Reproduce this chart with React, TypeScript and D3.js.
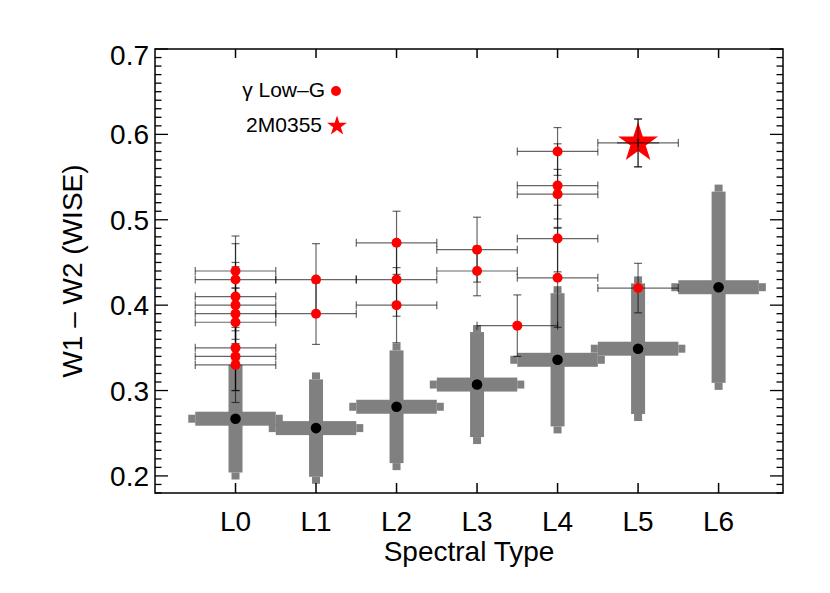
import * as d3 from 'd3'

// field dwarf averages (gray crosses)
const spectralLabels = ['L0', 'L1', 'L2', 'L3', 'L4', 'L5', 'L6']
const fieldSpt = [0, 1, 2, 3, 4, 5, 6]
const fieldColor = [0.267, 0.256, 0.281, 0.307, 0.336, 0.349, 0.421]
const fieldColorErr = [0.063, 0.057, 0.066, 0.0615, 0.078, 0.0765, 0.112]
const fieldSptErr = [0.5, 0.5, 0.5, 0.5, 0.5, 0.5, 0.5]

// gamma low-gravity objects (red dots)
const lowGSpt = [0, 0, 0, 0, 0, 0, 0, 0, 0, 1, 1, 2, 2, 2, 3, 3, 3.5, 4, 4, 4, 4, 4, 5]
const lowGColor = [0.44, 0.43, 0.41, 0.40, 0.39, 0.38, 0.35, 0.34, 0.33, 0.43, 0.39, 0.473, 0.43, 0.40, 0.465, 0.44, 0.376, 0.58, 0.54, 0.53, 0.478, 0.432, 0.42]
const lowGColorErr = [0.041, 0.042, 0.04, 0.045, 0.03, 0.04, 0.05, 0.04, 0.044, 0.042, 0.036, 0.037, 0.043, 0.044, 0.038, 0.029, 0.036, 0.028, 0.049, 0.029, 0.039, 0.058, 0.029]
const lowGSptErr = 0.5

// 2M0355 (star)
const starSpt = 5
const starColor = 0.59
const starColorErr = 0.028
const starSptErr = 0.5

const yMajor = [0.2, 0.3, 0.4, 0.5, 0.6, 0.7]

const W = 830
const H = 593
const left = 155
const right = 783
const top = 49
const bottom = 493

const starPath = (r) => {
  const pts = d3.range(10).map(i => [i * Math.PI / 5, i % 2 === 0 ? r : r * 0.382])
  return d3.lineRadial().curve(d3.curveLinearClosed)(pts)
}

export default function App() {
  const x = d3.scaleLinear().domain([-1, 6.8]).range([left, right])
  const y = d3.scaleLinear().domain([0.18, 0.7]).range([bottom, top])
  const yMinor = d3.range(18, 71).map(v => v / 100)
  const gray = '#808080'
  const thin = { stroke: '#000', strokeOpacity: 0.6, strokeWidth: 1.2 }
  const font = 'Liberation Sans, Arial, Helvetica, sans-serif'

  const errBars = (sx, sy, ex, ey, key) => {
    const x0 = x(sx - ex), x1 = x(sx + ex), cx = x(sx)
    const y0 = y(sy - ey), y1 = y(sy + ey), cy = y(sy)
    return (
      <g key={key} {...thin}>
        <line x1={x0} x2={x1} y1={cy} y2={cy} />
        <line x1={x0} x2={x0} y1={cy - 4} y2={cy + 4} />
        <line x1={x1} x2={x1} y1={cy - 4} y2={cy + 4} />
        <line x1={cx} x2={cx} y1={y0} y2={y1} />
        <line x1={cx - 4} x2={cx + 4} y1={y0} y2={y0} />
        <line x1={cx - 4} x2={cx + 4} y1={y1} y2={y1} />
      </g>
    )
  }

  return (
    <svg width={W} height={H} style={{ position: 'absolute', left: 0, top: 0, background: '#fff' }} fontFamily={font}>
      {/* gray crosses */}
      {fieldSpt.map((s, i) => {
        const cx = x(s), cy = y(fieldColor[i])
        const yt = y(fieldColor[i] + fieldColorErr[i]), yb = y(fieldColor[i] - fieldColorErr[i])
        const xl = x(s - fieldSptErr[i]), xr = x(s + fieldSptErr[i])
        return (
          <g key={'f' + i} fill={gray}>
            <rect x={cx - 7} y={yt} width={14} height={yb - yt} />
            <rect x={cx - 4} y={yt - 7} width={8} height={7} />
            <rect x={cx - 4} y={yb} width={8} height={7} />
            <rect x={xl} y={cy - 7} width={xr - xl} height={14} />
            <rect x={xl - 7} y={cy - 4} width={7} height={8} />
            <rect x={xr} y={cy - 4} width={7} height={8} />
          </g>
        )
      })}
      {fieldSpt.map((s, i) => (
        <circle key={'fd' + i} cx={x(s)} cy={y(fieldColor[i])} r={5.3} fill="#000" />
      ))}

      {/* low-g error bars and points */}
      {lowGSpt.map((s, i) => errBars(s, lowGColor[i], lowGSptErr, lowGColorErr[i], 'e' + i))}
      {errBars(starSpt, starColor, starSptErr, starColorErr, 'es')}
      {lowGSpt.map((s, i) => (
        <circle key={'g' + i} cx={x(s)} cy={y(lowGColor[i])} r={5} fill="#ff0000" />
      ))}
      <path d={starPath(21)} transform={`translate(${x(starSpt)},${y(starColor)})`} fill="#ff0000" />
      {errBars(starSpt, starColor, 0, starColorErr, 'es2')}
      <g {...thin}>
        <line x1={x(starSpt) - 21} x2={x(starSpt) + 21} y1={y(starColor)} y2={y(starColor)} />
      </g>

      {/* frame */}
      <rect x={left} y={top} width={right - left} height={bottom - top} fill="none" stroke="#000" strokeWidth={1.5} />
      {fieldSpt.map(s => (
        <g key={'xt' + s} stroke="#000" strokeWidth={1.5}>
          <line x1={x(s)} x2={x(s)} y1={bottom} y2={bottom - 10} />
          <line x1={x(s)} x2={x(s)} y1={top} y2={top + 9} />
        </g>
      ))}
      {yMinor.map(v => {
        const major = Math.abs(v * 10 - Math.round(v * 10)) < 1e-6
        const len = major ? 13 : 6.5
        return (
          <g key={'yt' + v} stroke="#000" strokeWidth={1.3}>
            <line x1={left} x2={left + len} y1={y(v)} y2={y(v)} />
            <line x1={right} x2={right - len} y1={y(v)} y2={y(v)} />
          </g>
        )
      })}

      {/* tick labels */}
      {yMajor.map(v => (
        <text key={'yl' + v} x={149} y={y(v) + 10 + (v === 0.7 ? 6 : 0)} textAnchor="end" fontSize={28}>
          {v.toFixed(1)}
        </text>
      ))}
      {spectralLabels.map((l, i) => (
        <text key={'xl' + l} x={x(fieldSpt[i])} y={531} textAnchor="middle" fontSize={28}>{l}</text>
      ))}
      <text x={(left + right) / 2} y={561} textAnchor="middle" fontSize={28}>Spectral Type</text>
      <text transform={`translate(82,${(top + bottom) / 2}) rotate(-90)`} textAnchor="middle" fontSize={28}>
        W1 – W2 (WISE)
      </text>

      {/* legend */}
      <text x={325} y={97} textAnchor="end" fontSize={21}>γ Low–G</text>
      <circle cx={336} cy={91} r={5} fill="#ff0000" />
      <text x={322} y={132} textAnchor="end" fontSize={21}>2M0355</text>
      <path d={starPath(10.5)} transform="translate(337,126)" fill="#ff0000" />
    </svg>
  )
}
